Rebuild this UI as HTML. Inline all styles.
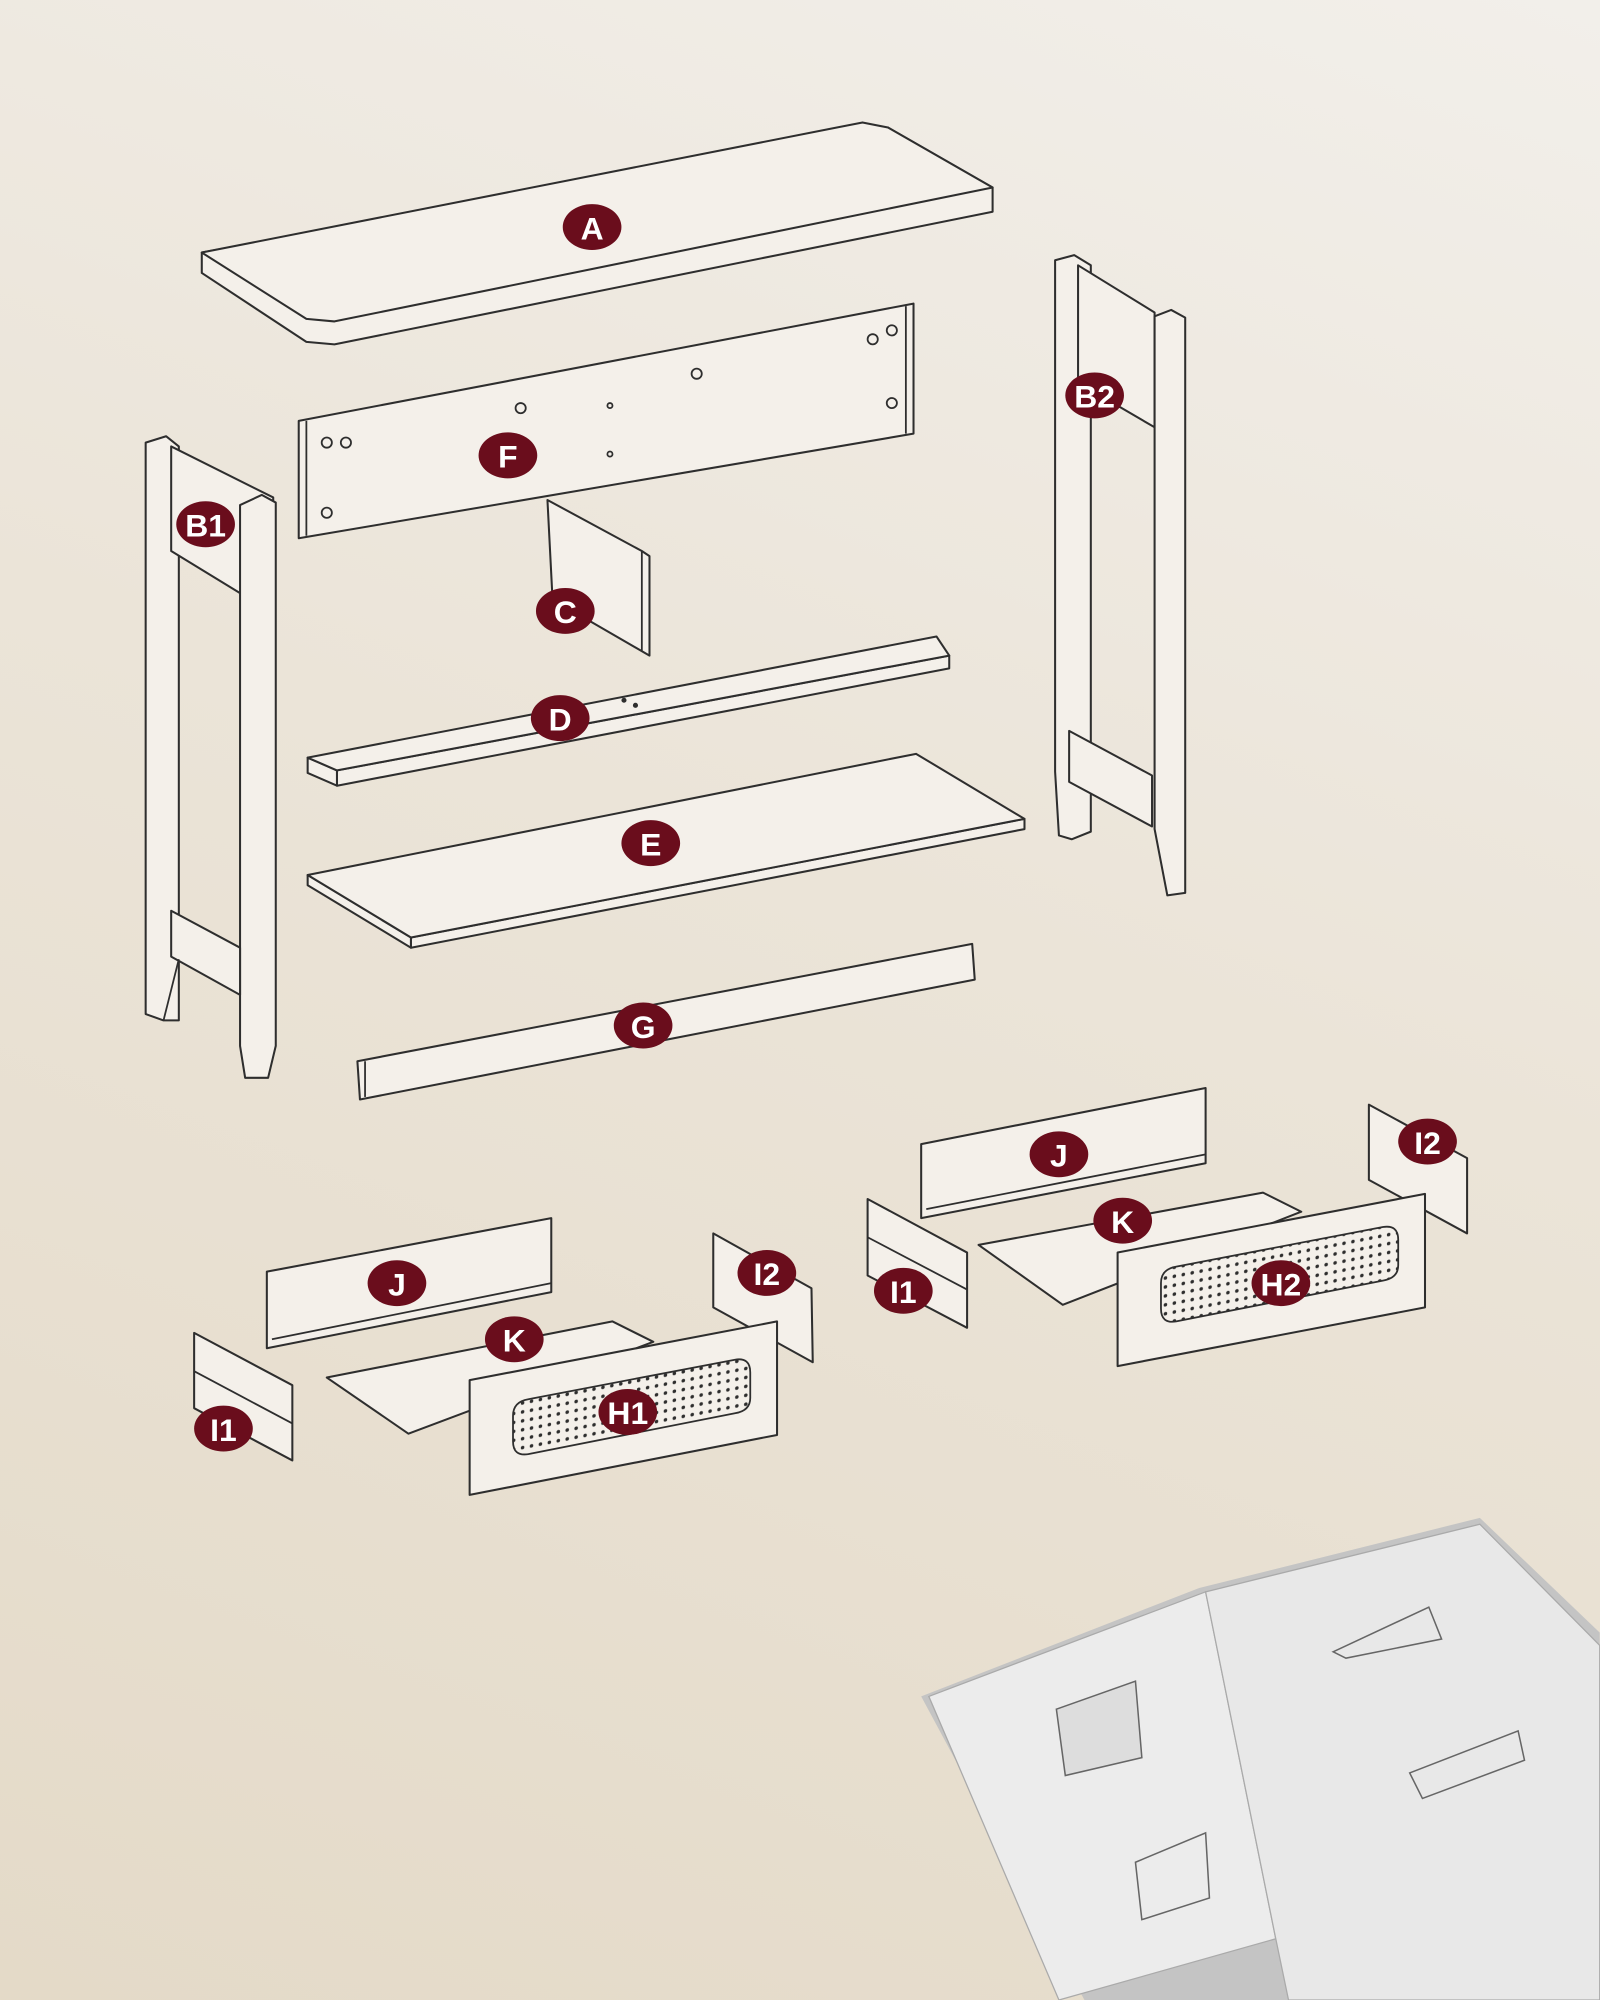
<!DOCTYPE html>
<html><head><meta charset="utf-8"><style>
html,body{margin:0;padding:0;width:1600px;height:2000px;overflow:hidden}
body{background:linear-gradient(200deg,#f2efea 0%,#ebe4d8 45%,#e4dac8 100%)}
svg{display:block}
.p{fill:#f4f0ea;stroke:#2e2e2e;stroke-width:1.6;stroke-linejoin:round}
.l{fill:none;stroke:#2e2e2e;stroke-width:1.4}
.lb ellipse{fill:#6a0d1c}
.lb text{fill:#fff;font-family:"Liberation Sans",sans-serif;font-weight:bold;font-size:25px;text-anchor:middle;dominant-baseline:central}
.d{fill:#2e2e2e}
</style></head><body>
<svg width="1600" height="2000" viewBox="0 0 1254 1568" xmlns="http://www.w3.org/2000/svg">
<defs>
<pattern id="dots" width="7" height="7" patternUnits="userSpaceOnUse" patternTransform="skewY(-11)">
<rect width="7" height="7" fill="#f4f0ea"/><circle cx="3.5" cy="3.5" r="1.4" fill="#2e2e2e"/></pattern>
</defs>
<!-- A tabletop -->
<polygon class="p" points="158,198 158,214 240,268 262,270 778,166 778,147 696,100"/>
<polygon class="p" points="158,198 676,96 696,100 778,147 262,252 240,250"/>
<!-- F -->
<polygon class="p" points="234,330 716,238 716,340 234,422"/>
<line class="l" x1="240" y1="330" x2="240" y2="420"/><line class="l" x1="710" y1="240" x2="710" y2="340"/>
<g class="l"><circle cx="256" cy="347" r="4"/><circle cx="271" cy="347" r="4"/><circle cx="256" cy="402" r="4"/><circle cx="408" cy="320" r="4"/><circle cx="546" cy="293" r="4"/><circle cx="684" cy="266" r="4"/><circle cx="699" cy="259" r="4"/><circle cx="699" cy="316" r="4"/><circle cx="478" cy="318" r="2"/><circle cx="478" cy="356" r="2"/></g>
<!-- C -->
<polygon class="p" points="429,392 503,432 509,436 509,514 433,470"/>
<line class="l" x1="503" y1="432" x2="503" y2="510"/>
<!-- D -->
<polygon class="p" points="241,594 264,604 264,616 241,606"/>
<polygon class="p" points="264,604 744,514 744,524 264,616"/>
<polygon class="p" points="241,594 734,499 744,514 264,604"/>
<circle class="d" cx="489" cy="549" r="2"/><circle class="d" cx="498" cy="553" r="2"/>
<!-- E -->
<polygon class="p" points="241,686 322,735 322,743 241,694"/>
<polygon class="p" points="322,735 803,642 803,650 322,743"/>
<polygon class="p" points="241,686 718,591 803,642 322,735"/>
<!-- G -->
<polygon class="p" points="280,832 762,740 764,768 282,862"/>
<line class="l" x1="286" y1="832" x2="286" y2="860"/>
<!-- B1 -->
<polygon class="p" points="114,347 130,342 140,350 140,800 128,800 114,795"/>
<polygon class="p" points="134,350 214,390 214,420 188,465 134,432"/>
<polygon class="p" points="188,396 205,388 216,394 216,820 210,845 192,845 188,820"/>
<polygon class="p" points="134,714 188,743 188,780 134,750"/>
<line class="l" x1="140" y1="752" x2="128" y2="800"/>
<!-- B2 -->
<polygon class="p" points="827,204 842,200 855,208 855,652 840,658 830,655 827,605"/>
<polygon class="p" points="845,208 905,245 905,335 845,300"/>
<polygon class="p" points="905,248 918,243 929,249 929,700 915,702 905,650"/>
<polygon class="p" points="838,573 903,608 903,648 838,613"/>
<!-- Drawer left -->
<polygon class="p" points="256,1080 480,1036 512,1052 320,1124"/>
<polygon class="p" points="209,997 432,955 432,1013 209,1057"/>
<line class="l" x1="213" y1="1050" x2="432" y2="1006"/>
<polygon class="p" points="559,967 636,1010 637,1068 559,1025"/>
<polygon class="p" points="152,1045 229,1086 229,1145 152,1104"/>
<line class="l" x1="152" y1="1075" x2="229" y2="1116"/>
<polygon class="p" points="368,1082 609,1036 609,1125 368,1172"/>
<path d="M414,1097 L576,1066 Q588,1064 588,1076 L588,1096 Q588,1106 576,1108 L414,1140 Q402,1142 402,1130 L402,1110 Q402,1099 414,1097 Z" fill="url(#dots)" stroke="#2e2e2e" stroke-width="1.4"/>
<!-- Drawer right -->
<polygon class="p" points="767,976 990,935 1020,950 833,1023"/>
<polygon class="p" points="722,897 945,853 945,912 722,955"/>
<line class="l" x1="726" y1="948" x2="945" y2="905"/>
<polygon class="p" points="1073,866 1150,908 1150,967 1073,925"/>
<polygon class="p" points="680,940 758,982 758,1041 680,1000"/>
<line class="l" x1="680" y1="970" x2="758" y2="1011"/>
<polygon class="p" points="876,982 1117,936 1117,1025 876,1071"/>
<path d="M922,993 L1084,962 Q1096,960 1096,972 L1096,992 Q1096,1002 1084,1004 L922,1036 Q910,1038 910,1026 L910,1006 Q910,995 922,993 Z" fill="url(#dots)" stroke="#2e2e2e" stroke-width="1.4"/>
<!-- booklet -->
<polygon points="722,1330 940,1245 1160,1190 1254,1280 1254,1568 850,1568" fill="#c4c4c4"/>
<polygon points="728,1330 945,1248 1000,1520 830,1568" fill="#ececec" stroke="#aaa"/>
<polygon points="945,1248 1160,1195 1254,1290 1254,1568 1010,1568 1000,1520" fill="#e8e8e8" stroke="#aaa"/>
<g style="stroke:#666;stroke-width:1.2">
<polygon points="828,1340 890,1318 895,1378 835,1392" fill="#ddd"/>
<polygon points="890,1460 945,1437 948,1488 895,1505" fill="none"/>
<polygon points="1045,1295 1120,1260 1130,1285 1055,1300" fill="none"/>
<polygon points="1105,1390 1190,1357 1195,1380 1115,1410" fill="none"/>
</g>
<!-- labels -->
<g class="lb">
<ellipse cx="464" cy="178" rx="23" ry="18"/><text x="464" y="179">A</text>
<ellipse cx="398" cy="357" rx="23" ry="18"/><text x="398" y="358">F</text>
<ellipse cx="161" cy="411" rx="23" ry="18"/><text x="161" y="412">B1</text>
<ellipse cx="858" cy="310" rx="23" ry="18"/><text x="858" y="311">B2</text>
<ellipse cx="443" cy="479" rx="23" ry="18"/><text x="443" y="480">C</text>
<ellipse cx="439" cy="563" rx="23" ry="18"/><text x="439" y="564">D</text>
<ellipse cx="510" cy="661" rx="23" ry="18"/><text x="510" y="662">E</text>
<ellipse cx="504" cy="804" rx="23" ry="18"/><text x="504" y="805">G</text>
<ellipse cx="311" cy="1006" rx="23" ry="18"/><text x="311" y="1007">J</text>
<ellipse cx="403" cy="1050" rx="23" ry="18"/><text x="403" y="1051">K</text>
<ellipse cx="601" cy="998" rx="23" ry="18"/><text x="601" y="999">I2</text>
<ellipse cx="175" cy="1120" rx="23" ry="18"/><text x="175" y="1121">I1</text>
<ellipse cx="492" cy="1107" rx="23" ry="18"/><text x="492" y="1108">H1</text>
<ellipse cx="830" cy="905" rx="23" ry="18"/><text x="830" y="906">J</text>
<ellipse cx="880" cy="957" rx="23" ry="18"/><text x="880" y="958">K</text>
<ellipse cx="1119" cy="895" rx="23" ry="18"/><text x="1119" y="896">I2</text>
<ellipse cx="708" cy="1012" rx="23" ry="18"/><text x="708" y="1013">I1</text>
<ellipse cx="1004" cy="1006" rx="23" ry="18"/><text x="1004" y="1007">H2</text>
</g>
</svg>
</body></html>
